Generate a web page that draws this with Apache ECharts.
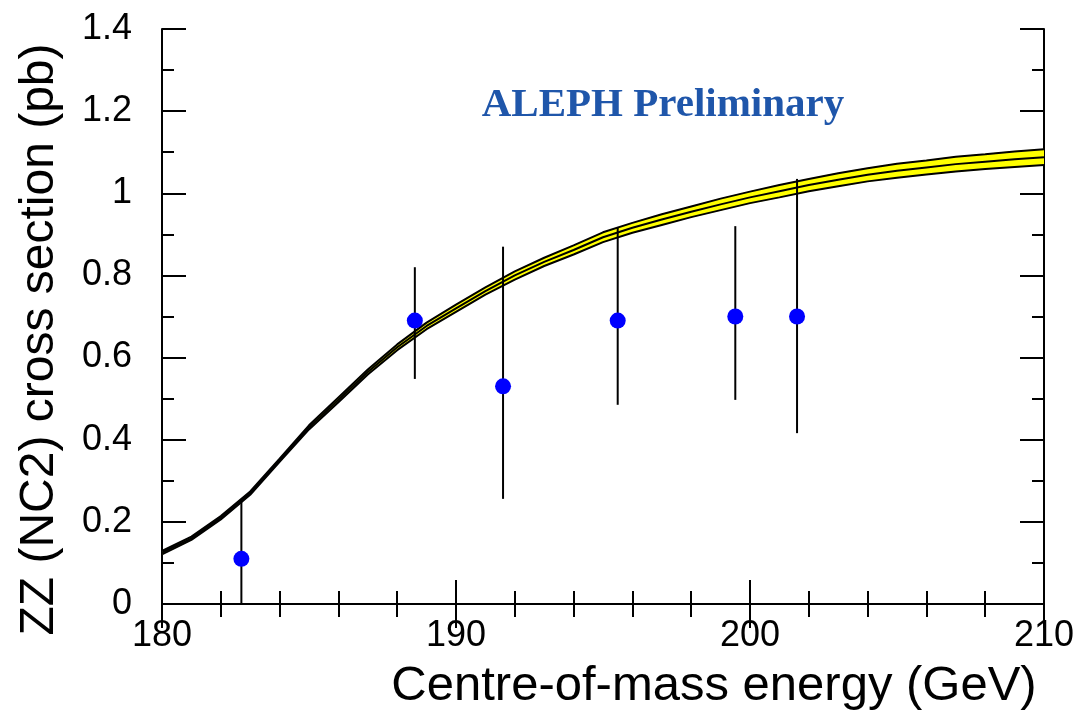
<!DOCTYPE html>
<html>
<head>
<meta charset="utf-8">
<script src="https://cdn.jsdelivr.net/npm/echarts@6/dist/echarts.min.js"></script>
<style>
html,body{margin:0;padding:0;background:#fff;}
#chart{width:1082px;height:723px;}
</style>
</head>
<body>
<div id="chart"></div>
<script>
// Theory curve (centre) and band half-width, one value per GeV
const theoryE = [180,181,182,183,184,185,186,187,188,189,190,191,192,193,194,195,196,197,198,199,200,201,202,203,204,205,206,207,208,209,210];
const theoryXS = [0.125,0.16,0.21,0.27,0.35,0.43,0.497,0.565,0.625,0.677,0.72,0.762,0.80,0.833,0.862,0.893,0.916,0.936,0.955,0.973,0.99,1.005,1.02,1.033,1.045,1.055,1.063,1.071,1.077,1.083,1.088];
const theoryErr = [0.004,0.004,0.004,0.004,0.004,0.005,0.006,0.006,0.007,0.008,0.009,0.009,0.010,0.010,0.011,0.012,0.012,0.013,0.013,0.014,0.014,0.015,0.015,0.016,0.016,0.017,0.017,0.018,0.018,0.019,0.019];

// ALEPH measurements
const dataE  = [182.7, 188.6, 191.6, 195.5, 199.5, 201.6];
const dataXS = [0.11, 0.69, 0.53, 0.69, 0.70, 0.70];
const dataLo = [0.0, 0.548, 0.256, 0.485, 0.497, 0.416];
const dataHi = [0.25, 0.82, 0.87, 0.918, 0.92, 1.035];

const yTickLabels = ['0','0.2','0.4','0.6','0.8','1','1.2','1.4'];
const xTickLabels = ['180','190','200','210'];

const bandLower = theoryE.map((e,i)=>[e, theoryXS[i]-theoryErr[i]]);
const bandUpper = theoryE.map((e,i)=>[e, theoryXS[i]+theoryErr[i]]);
const bandCells = theoryE.slice(0,-1).map((e,i)=>[e, theoryXS[i]-theoryErr[i], theoryXS[i]+theoryErr[i],
                                                  theoryE[i+1], theoryXS[i+1]-theoryErr[i+1], theoryXS[i+1]+theoryErr[i+1]]);
const centre = theoryE.map((e,i)=>[e, theoryXS[i]]);
const points = dataE.map((e,i)=>[e, dataXS[i]]);
const bars = dataE.map((e,i)=>[e, dataLo[i], dataHi[i]]);

const font = 'Liberation Sans, Arial, Helvetica, sans-serif';
const axisLine = {show:true, lineStyle:{color:'#000', width:2}};
const tick = {show:true, inside:true, length:24, lineStyle:{color:'#000', width:2}};
const minorX = {show:true, splitNumber:5, length:13, lineStyle:{color:'#000', width:2}};
const minorY = {show:true, splitNumber:2, length:12, lineStyle:{color:'#000', width:2}};

const chart = echarts.init(document.getElementById('chart'), null, {renderer:'canvas'});
chart.setOption({
  animation:false,
  backgroundColor:'#fff',
  grid:{left:162, right:38, top:29, bottom:119, containLabel:false},
  title:{
    text:'ALEPH Preliminary',
    left:658, top:80, textAlign:'center',
    textStyle:{fontFamily:'Liberation Serif, Times New Roman, serif', fontWeight:'bold', fontSize:41, color:'#1f56aa'}
  },
  xAxis:[
    {type:'value', min:180, max:210, interval:10, position:'bottom',
     axisLine:axisLine, axisTick:tick, minorTick:minorX,
     splitLine:{show:false}, minorSplitLine:{show:false},
     axisLabel:{fontSize:36, margin:14, color:'#000', fontFamily:font,
       formatter:(v,i)=>xTickLabels[i]},
     name:'Centre-of-mass energy (GeV)', nameLocation:'middle', nameGap:58,
     nameTextStyle:{fontSize:49, color:'#000', fontFamily:font, padding:[0,0,0,222]}
    },
    {type:'value', min:180, max:210, interval:10, position:'top',
     axisLine:axisLine, axisTick:tick, minorTick:minorX,
     splitLine:{show:false}, minorSplitLine:{show:false}, axisLabel:{show:false}}
  ],
  yAxis:[
    {type:'value', min:0, max:1.4, interval:0.2, position:'left',
     axisLine:axisLine, axisTick:tick, minorTick:minorY,
     splitLine:{show:false}, minorSplitLine:{show:false},
     axisLabel:{fontSize:36, margin:30, color:'#000', fontFamily:font,
       formatter:(v,i)=>yTickLabels[i]},
     name:'ZZ (NC2) cross section (pb)', nameLocation:'middle', nameGap:98,
     nameTextStyle:{fontSize:48, color:'#000', fontFamily:font, padding:[0,46,0,0]}
    },
    {type:'value', min:0, max:1.4, interval:0.2, position:'right',
     axisLine:axisLine, axisTick:tick, minorTick:minorY,
     splitLine:{show:false}, minorSplitLine:{show:false}, axisLabel:{show:false}}
  ],
  series:[
    {type:'custom', data:bandCells, z:1, clip:true,
     renderItem:(params, api)=>{
       const a = api.coord([api.value(0), api.value(1)]);
       const b = api.coord([api.value(3), api.value(4)]);
       const c = api.coord([api.value(3), api.value(5)]);
       const d = api.coord([api.value(0), api.value(2)]);
       return {type:'polygon', shape:{points:[a,b,c,d]},
               style:{fill:'#ffff00', stroke:'#ffff00', lineWidth:1}};
     }},
    {type:'line', data:bandLower, symbol:'none', lineStyle:{color:'#000', width:2}, z:2},
    {type:'line', data:bandUpper, symbol:'none', lineStyle:{color:'#000', width:2}, z:2},
    {type:'line', data:centre, symbol:'none', lineStyle:{color:'#000', width:2}, z:3},
    {type:'custom', data:bars, z:4,
     renderItem:(params, api)=>{
       const x = api.value(0);
       const p1 = api.coord([x, api.value(1)]);
       const p2 = api.coord([x, api.value(2)]);
       return {type:'line', shape:{x1:p1[0], y1:p1[1], x2:p2[0], y2:p2[1]},
               style:{stroke:'#000', lineWidth:2}};
     }},
    {type:'scatter', data:points, symbol:'circle', symbolSize:16,
     itemStyle:{color:'#0000ff', opacity:1}, z:5}
  ]
});
</script>
</body>
</html>
